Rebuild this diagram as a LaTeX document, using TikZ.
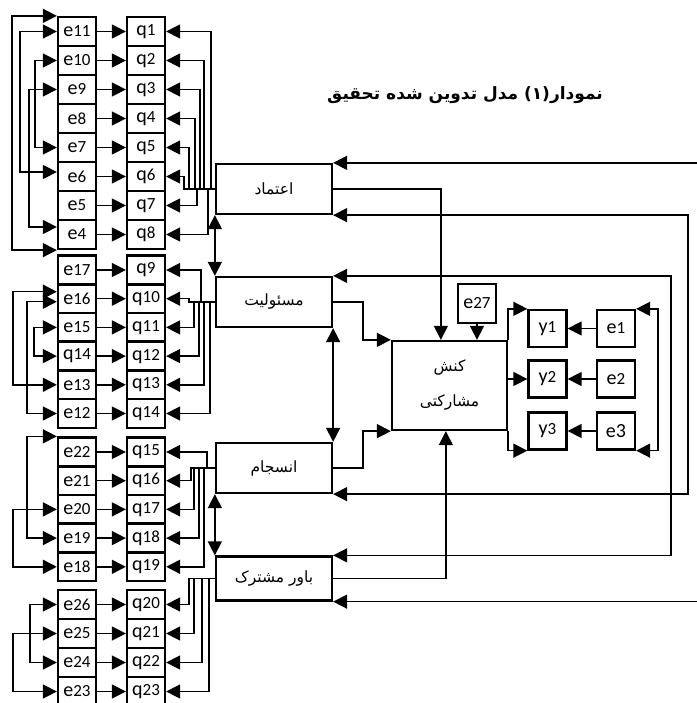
\documentclass[tikz,border=0pt]{standalone}
\usepackage{fontspec}
\setmainfont{Carlito}
\newfontfamily\farsi[Script=Arabic]{DejaVu Sans}
\TeXXeTstate=1
\usetikzlibrary{arrows.meta}

\newcommand{\ev}[2]{{\fontsize{20}{21}\selectfont #1}{\fontsize{17}{18}\selectfont #2}}
\newcommand{\fa}[1]{{\farsi\beginR #1\endR}}

\begin{document}
\begin{tikzpicture}[x=1pt, y=-1pt,
        line/.style={line width=1.5pt},
        arr/.style={line, -{Triangle[length=14pt, width=14pt]}},
        dbl/.style={line, {Triangle[length=14pt, width=14pt]}-{Triangle[length=14pt, width=14pt]}},
        obs/.style={draw, line width=2.3pt, minimum width=38pt, minimum height=29pt, inner sep=0pt},
        lat/.style={draw, line width=2.3pt, minimum width=116pt, minimum height=50pt, inner sep=0pt,
                    font=\farsi\fontsize{15.5}{17}\selectfont}
    ]
    \path[use as bounding box] (0,0) rectangle (696,703);

    % indicator columns
    \foreach \e/\q [count=\i from 0] in {11/1,10/2,9/3,8/4,7/5,6/6,5/7,4/8} {
        \node[obs] (e\e) at (77, {31.5+29*\i}) {\ev{e}{\e}};
        \node[obs] (q\q) at (146, {31.5+29*\i}) {\ev{q}{\q}};
        \draw[arr] (e\e) -- (q\q);
    }
    \foreach \nm/\l/\n/\q [count=\i from 0] in {e17/e/17/9,e16/e/16/10,e15/e/15/11,l14/q/14/12,e13/e/13/13,e12/e/12/14} {
        \node[obs] (\nm) at (77, {270+28.7*\i}) {\ev{\l}{\n}};
        \node[obs] (q\q) at (146, {270+28.7*\i}) {\ev{q}{\q}};
        \draw[arr] (\nm) -- (q\q);
    }
    \foreach \e/\q [count=\i from 0] in {22/15,21/16,20/17,19/18,18/19} {
        \node[obs] (e\e) at (77, {452+28.7*\i}) {\ev{e}{\e}};
        \node[obs] (q\q) at (146, {452+28.7*\i}) {\ev{q}{\q}};
        \draw[arr] (e\e) -- (q\q);
    }
    \foreach \e/\q [count=\i from 0] in {26/20,25/21,24/22,23/23} {
        \node[obs] (e\e) at (77, {604.5+29*\i}) {\ev{e}{\e}};
        \node[obs] (q\q) at (146, {604.5+29*\i}) {\ev{q}{\q}};
        \draw[arr] (e\e) -- (q\q);
    }

    % error covariances (left)
    \draw[dbl] (e11.north west) -- ++(-45,0) |- (e4.south west);
    \draw[dbl] (e11.west) -- ++(-37,0) |- ([yshift=4.5pt]e6.west);
    \draw[dbl] (e10.west) -- ++(-22,0) |- (e7.west);
    \draw[dbl] (e9.west) -- ++(-28,0) |- ([yshift=7.5pt]e4.west);
    \draw[dbl] ([yshift=7pt]e16.west) -- ++(-44,0) |- (e13.west);
    \draw[dbl] ([yshift=-3pt]e16.west) -- ++(-30,0) |- (e12.west);
    \draw[dbl] (e15.west) -- ++(-23,0) |- (l14.west);
    \draw[dbl] (e22.north west) -- ++(-30,0) |- (e19.west);
    \draw[dbl] (e20.west) -- ++(-44,0) |- (e18.west);
    \draw[dbl] (e26.west) -- ++(-27,0) |- (e24.west);
    \draw[dbl] (e25.west) -- ++(-44,0) |- (e23.west);

    % constructs
    \node[lat] (trust)  at (274, 189)   {\fa{اعتماد}};
    \node[lat] (resp)   at (274, 302)   {\fa{مسئولیت}};
    \node[lat] (coh)    at (274, 468)   {\fa{انسجام}};
    \node[lat, minimum height=44pt] (belief) at (274, 578.5) {\fa{باور مشترک}};

    % loadings (fans)
    \foreach \q/\d in {1/4,2/11,3/15,4/20,5/26,6/31,7/18,8/7}
        \draw[arr] (trust.west) -- ++(-\d,0) |- (q\q.east);
    \foreach \q/\d in {9/14,10/26,11/21,12/16,13/11,14/5}
        \draw[arr] (resp.west) -- ++(-\d,0) |- (q\q.east);
    \foreach \q/\d in {15/8,16/24,17/21,18/16,19/11}
        \draw[arr] (coh.west) -- ++(-\d,0) |- (q\q.east);
    \foreach \q/\d in {20/26,21/21,22/13,23/6}
        \draw[arr] (belief.west) -- ++(-\d,0) |- (q\q.east);

    \draw[dbl] (trust.south west) -- (resp.north west);
    \draw[dbl] (resp.south east) -- (coh.north east);
    \draw[dbl] (coh.south west) -- (belief.north west);

    % outcome
    \node[draw, line width=2.3pt, minimum width=115pt, minimum height=89pt, align=center,
          font=\farsi\fontsize{15.5}{17}\selectfont] (act) at (449.5, 385.5) {\fa{کنش}\\[18pt]\fa{مشارکتی}};
    \node[obs, minimum height=39pt] (e27) at (477, 303.5) {\ev{e}{27}};
    \draw[arr] (e27) -- (e27 |- act.north);

    \node[obs, minimum height=37pt] (y1) at (547.5, 328.5) {\ev{y}{1}};
    \node[obs, minimum height=37pt] (y2) at (547.5, 379)   {\ev{y}{2}};
    \node[obs, minimum height=37pt] (y3) at (547.5, 431)   {\ev{y}{3}};
    \node[obs, minimum height=37pt] (r1) at (616, 328.5)   {\ev{e}{1}};
    \node[obs, minimum height=37pt] (r2) at (616, 379)     {\ev{e}{2}};
    \node[obs, minimum height=37pt] (r3) at (616, 431)     {{\fontsize{20}{21}\selectfont e3}};
    \draw[arr] (r1) -- (y1);
    \draw[arr] (r2) -- (y2);
    \draw[arr] (r3) -- (y3);
    \draw[arr] (act.north east) |- (y1.north west);
    \draw[arr] (act.east |- y2.west) -- (y2.west);
    \draw[arr] (act.south east) |- (y3.south west);
    \draw[dbl] (r1.north east) -- ++(22,0) |- (r3.south east);

    % structural paths
    \draw[arr] (trust.east) -| ([xshift=50pt]act.north west);
    \draw[arr] (resp.east) -- ++(30,0) |- (act.north west);
    \draw[arr] (coh.east) -- ++(30,0) |- (act.south west);
    \draw[arr] (belief.east) -| ([xshift=55pt]act.south west);

    % long covariances on the right
    \path (trust.north east) ++(370,0) coordinate (top);
    \path (belief.south east) ++(370,0) coordinate (bot);
    \draw[arr] (top) -- (trust.north east);
    \draw[dbl] (trust.south east) -- ++(355,0) |- (coh.south east);
    \draw[dbl] (resp.north east) -- ++(338,0) |- (belief.north east);
    \draw[arr] (bot) -- (belief.south east);

    \node[font=\farsi\bfseries\fontsize{17}{20}\selectfont] (title) at (465, 95)
        {\beginR نمودار(۱) مدل تدوین شده تحقیق\endR};
\end{tikzpicture}
\end{document}
